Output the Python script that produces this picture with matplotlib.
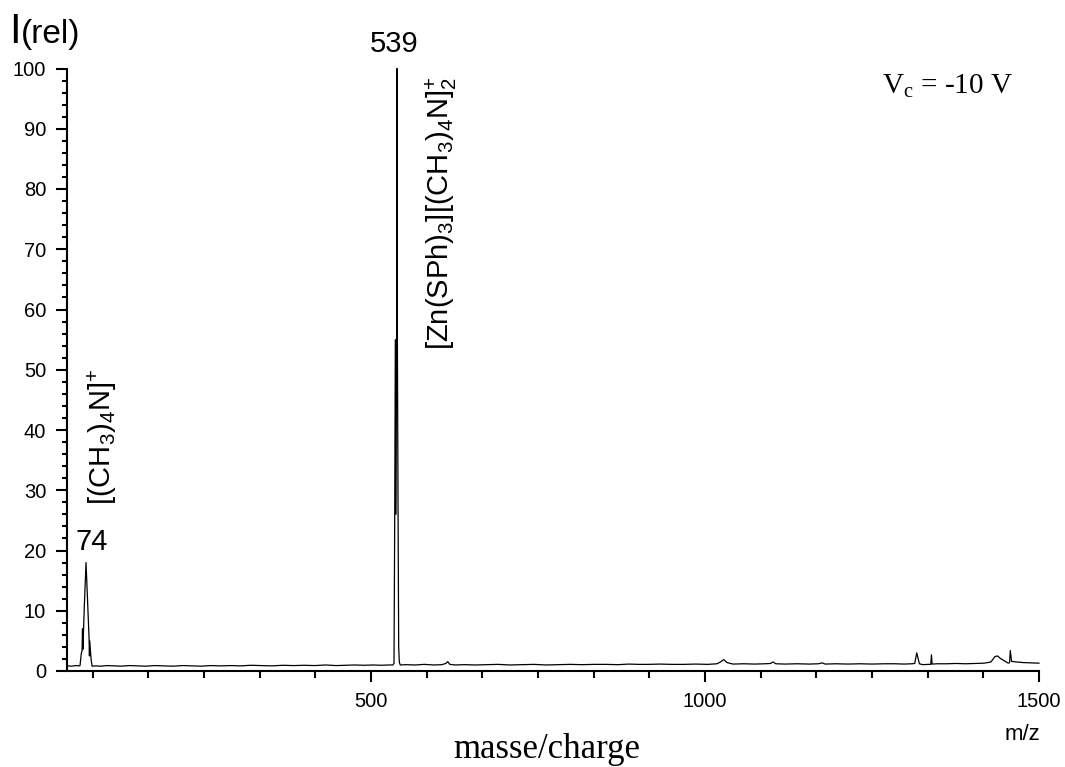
import matplotlib
matplotlib.use("Agg")
import matplotlib.pyplot as plt
from matplotlib.ticker import MultipleLocator, FixedLocator

plt.rcParams['font.family'] = ['Liberation Sans', 'DejaVu Sans']
plt.rcParams['mathtext.fontset'] = 'custom'
plt.rcParams['mathtext.rm'] = 'Liberation Serif'
plt.rcParams['mathtext.sf'] = 'Liberation Sans'

# ---- data ----
mz = [46, 52, 58, 63, 64.5,
      66.5, 67.5, 68.2, 68.8, 71, 73.5, 76, 78, 78.6, 79, 81, 82.5,
      88, 96, 105, 115, 126, 138, 150, 163, 176, 190, 204, 218, 232, 246,
      260, 275, 290, 305, 320, 336, 352, 368, 384, 400, 416, 432, 448, 462,
      476, 490, 503, 516, 526, 533,
      534.5, 535.5, 536.5, 537.5, 538.5, 539, 539.5, 540.5, 541.5, 542.5, 544,
      552, 566, 580, 594, 606, 612, 615, 618, 626, 640, 656, 672, 690, 708,
      726, 744, 762, 780, 798, 816, 834, 852, 870, 886, 900, 916, 932, 950,
      968, 986, 1004, 1018, 1024, 1028, 1033, 1042, 1058, 1074, 1090, 1098,
      1102, 1106, 1120, 1138, 1156, 1170, 1175, 1180, 1196, 1214, 1232, 1250,
      1268, 1284, 1298, 1310, 1314, 1317, 1321, 1326, 1334, 1338, 1339, 1340,
      1348, 1362, 1376, 1390, 1404, 1418, 1428, 1434, 1438, 1442, 1448, 1454,
      1456, 1457, 1459, 1466, 1476, 1488, 1500]
intensity = [0.85, 0.8, 0.9, 0.85, 0.9,
             3.0, 3.3, 7.0, 3.6, 11.0, 18.0, 11.0, 5.5, 2.5, 5.0, 2.0, 0.8,
             0.85, 0.8, 0.9, 0.85, 0.8, 0.9, 0.85, 0.8, 0.9, 0.85, 0.8, 0.9, 0.85, 0.8,
             0.9, 0.85, 0.9, 0.85, 0.95, 0.9, 0.85, 0.95, 0.9, 0.95, 0.9, 1.0, 0.9, 0.95,
             1.0, 0.95, 1.0, 0.95, 1.0, 1.0,
             1.3, 24.0, 55.0, 26.0, 58.0, 100.0, 57.0, 28.0, 4.0, 1.4, 1.0,
             1.05, 1.0, 1.1, 1.0, 1.05, 1.25, 1.55, 1.1, 1.0, 1.05, 1.0, 1.05, 1.1, 1.0,
             1.05, 1.1, 1.0, 1.05, 1.1, 1.05, 1.1, 1.1, 1.05, 1.15, 1.1, 1.1, 1.15, 1.1,
             1.1, 1.15, 1.1, 1.2, 1.55, 1.9, 1.4, 1.15, 1.2, 1.15, 1.2, 1.25,
             1.5, 1.2, 1.15, 1.2, 1.15, 1.2, 1.35, 1.15, 1.2, 1.15, 1.2, 1.15,
             1.2, 1.2, 1.15, 1.2, 1.25, 3.0, 1.2, 1.05, 1.1, 1.1, 2.7, 1.15,
             1.2, 1.2, 1.25, 1.2, 1.25, 1.3, 1.5, 2.4, 2.5, 2.1, 1.7, 1.3,
             1.4, 3.4, 1.6, 1.5, 1.4, 1.35, 1.3]

x_major = [500, 1000, 1500]
y_major = [0, 10, 20, 30, 40, 50, 60, 70, 80, 90, 100]

peak_positions = [74, 539]
peak_heights = [18, 100]
peak_labels = ['74', '539']
ion_labels = [r'[(CH$_\mathsf{3}$)$_\mathsf{4}$N]$^\mathsf{+}$',
              r'[Zn(SPh)$_\mathsf{3}$][(CH$_\mathsf{3}$)$_\mathsf{4}$N]$_\mathsf{2}^\mathsf{+}$']

W, H = 1065, 767
fig = plt.figure(figsize=(W / 100, H / 100), dpi=100)
ax = fig.add_axes([67 / W, 96 / H, (1039 - 67) / W, (671 - 68.5) / H])

ax.plot(mz, intensity, color='black', lw=0.9, clip_on=False)

ax.set_xlim(45, 1500)
ax.set_ylim(0, 100)

for s in ['top', 'right']:
    ax.spines[s].set_visible(False)
for s in ['left', 'bottom']:
    ax.spines[s].set_linewidth(1.5)

ax.xaxis.set_major_locator(FixedLocator(x_major))
ax.xaxis.set_minor_locator(MultipleLocator(500 / 6))
ax.yaxis.set_major_locator(FixedLocator(y_major))
ax.yaxis.set_minor_locator(MultipleLocator(2))

ax.tick_params(axis='x', which='major', length=8, width=1.5, labelsize=14.5, pad=7)
ax.tick_params(axis='x', which='minor', length=5, width=1.5)
ax.tick_params(axis='y', which='major', length=8, width=1.5, labelsize=14.5, pad=7)
ax.tick_params(axis='y', which='minor', length=3.6, width=1.5)

# peak value labels
ax.text(81.6, 20.1, peak_labels[0], fontsize=21, ha='center', va='baseline')
ax.text(534.6, 102.8, peak_labels[1], fontsize=21, ha='center', va='baseline',
        clip_on=False)

# rotated ion labels
ax.text(111.5, 27.6, ion_labels[0], fontsize=21, rotation=90,
        rotation_mode='anchor', ha='left', va='baseline')
ax.text(617, 98.7, ion_labels[1], fontsize=21, rotation=90,
        rotation_mode='anchor', ha='right', va='baseline')

# axis titles
fig.text(9 / W, 1 - 43 / H, 'I', fontsize=30, ha='left', va='baseline')
fig.text(21 / W, 1 - 43 / H, '(rel)', fontsize=24, ha='left', va='baseline')
fig.text(1040 / W, 1 - 740 / H, 'm/z', fontsize=16, ha='right', va='baseline')
fig.text(547 / W, 1 - 758 / H, 'masse/charge', fontsize=25, ha='center',
         va='baseline', family='Liberation Serif')
fig.text(1013 / W, 1 - 93 / H, r'V$_\mathrm{c}$ = -10 V', fontsize=21,
         ha='right', va='baseline', family='Liberation Serif')

fig.savefig('out.png', dpi=100)
